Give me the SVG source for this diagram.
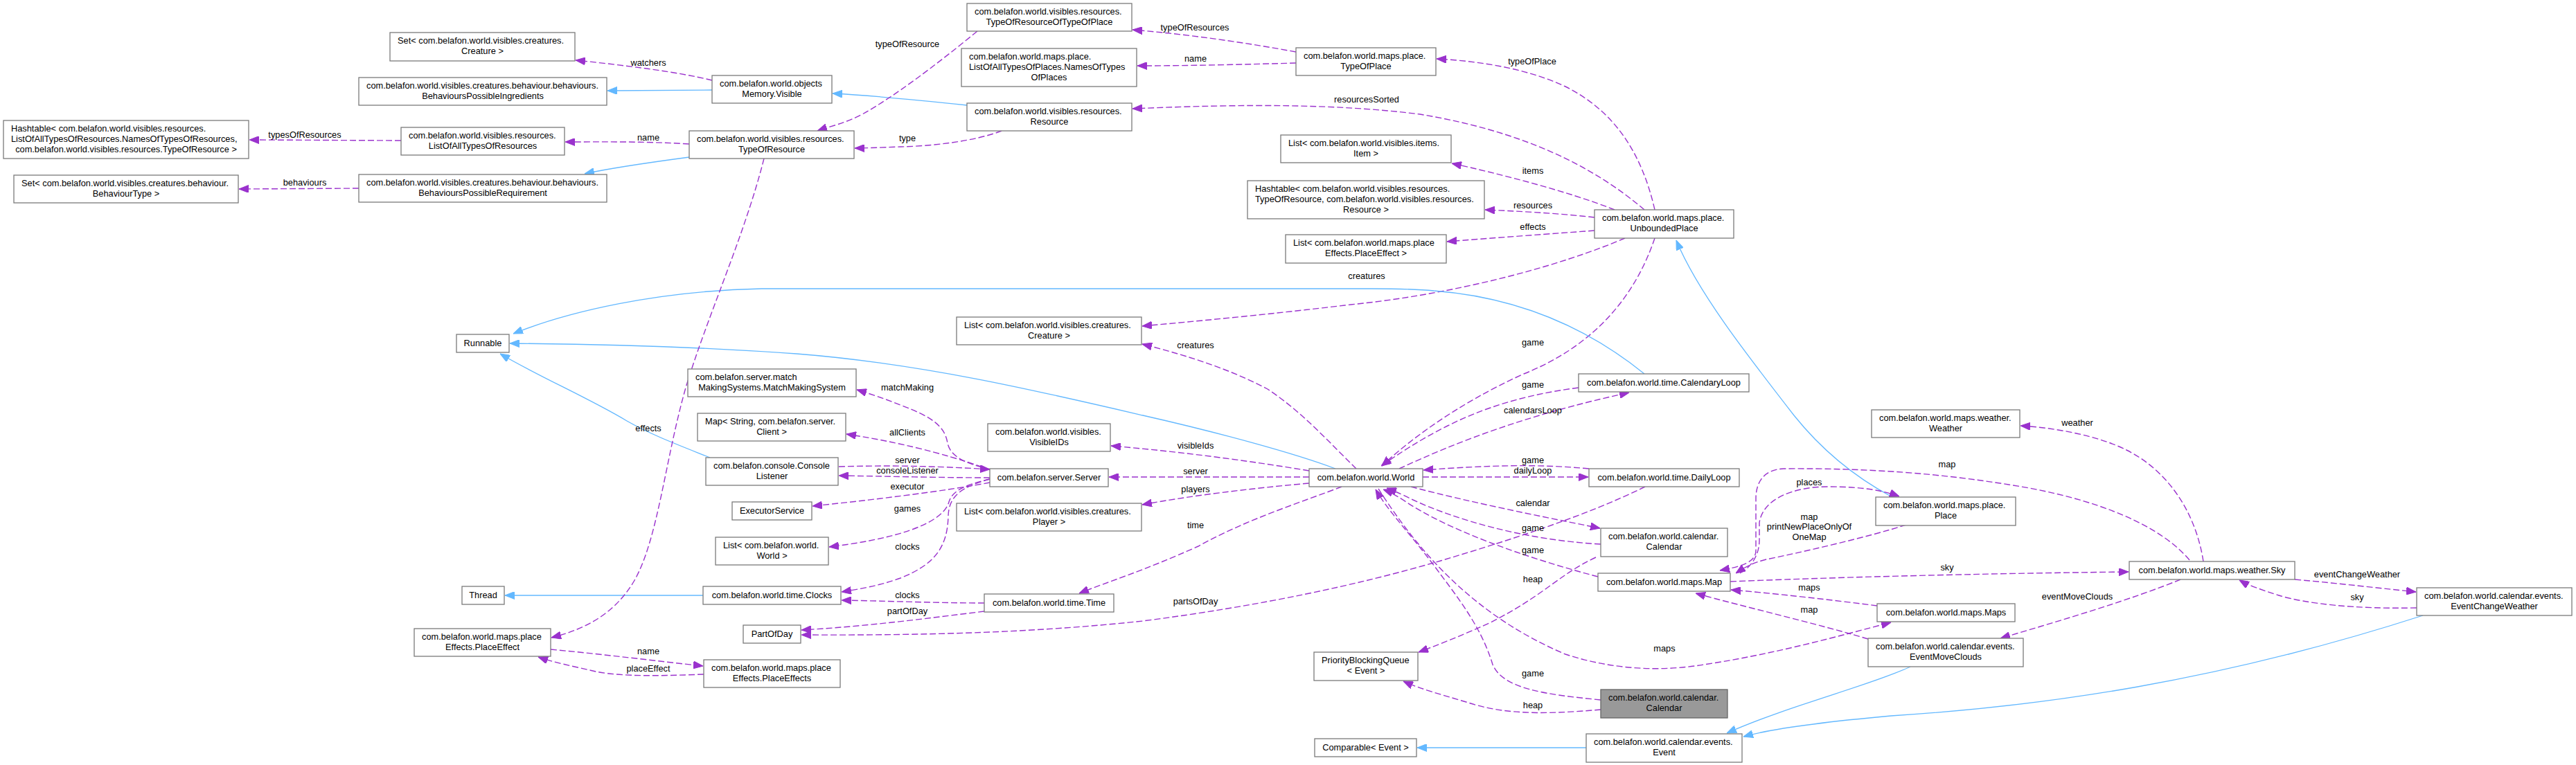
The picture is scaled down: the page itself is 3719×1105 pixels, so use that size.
<svg xmlns="http://www.w3.org/2000/svg" width="3719" height="1105" viewBox="0 0 3719 1105">
<defs>
<style>
text{font-family:"Liberation Sans",Arial,Helvetica,sans-serif;font-size:12.8px;fill:#000}
.node rect{fill:#fff;stroke:#7a7a7a;stroke-width:1.3}
.node.focus rect{fill:#999;stroke:#666}
.m{text-anchor:middle}
.s{text-anchor:start}
.u{fill:none;stroke:#9a32cd;stroke-width:1.4;stroke-dasharray:9,4;marker-end:url(#pa)}
.i{fill:none;stroke:#63b8ff;stroke-width:1.3;marker-end:url(#ba)}
.lbl text{text-anchor:middle}
</style>
<marker id="pa" markerUnits="userSpaceOnUse" markerWidth="14" markerHeight="11" refX="14" refY="5.5" orient="auto"><path d="M0,0 L14,5.5 L0,11 z" fill="#9a32cd" stroke="#9a32cd" stroke-width="1"/></marker>
<marker id="ba" markerUnits="userSpaceOnUse" markerWidth="14" markerHeight="11" refX="14" refY="5.5" orient="auto"><path d="M0,0 L14,5.5 L0,11 z" fill="#63b8ff" stroke="#63b8ff" stroke-width="1"/></marker>
</defs>
<rect width="3719" height="1105" fill="#fff"/>
<g id="connectors">
<path class="u" d="M1028,116 C980,104 900,94 831,87"/>
<path class="i" d="M1028,130 L877,131"/>
<path class="u" d="M579,203 L360,202"/>
<path class="u" d="M995,208 C930,204 870,205 816,205"/>
<path class="i" d="M995,227 C950,233 890,241 844,251"/>
<path class="u" d="M518,272 L345,273"/>
<path class="i" d="M1396,152 C1330,145 1260,138 1202,135"/>
<path class="u" d="M1411,45 C1350,95 1290,140 1245,165 C1220,178 1200,182 1180,189"/>
<path class="u" d="M1446,189 C1410,203 1350,211 1300,212 C1270,213 1250,214 1234,214"/>
<path class="u" d="M1871,75 C1800,62 1720,50 1635,43"/>
<path class="u" d="M1871,91 C1800,93 1720,95 1642,95"/>
<path class="u" d="M2389,303 C2370,220 2330,160 2260,125 C2200,97 2130,88 2074,85"/>
<path class="u" d="M2374,303 C2300,240 2200,190 2050,165 C1930,150 1800,150 1635,157"/>
<path class="u" d="M2331,303 C2260,275 2160,250 2096,236"/>
<path class="u" d="M2302,314 C2250,308 2190,305 2144,303"/>
<path class="u" d="M2302,333 C2250,337 2150,344 2089,349"/>
<path class="u" d="M2346,344 C2250,385 2100,425 1950,440 C1850,452 1750,462 1649,471"/>
<path class="u" d="M2389,344 C2360,430 2300,500 2200,540 C2100,585 2030,640 1995,673"/>
<path class="u" d="M1958,677 C1920,640 1880,595 1830,562 C1770,530 1700,510 1649,497"/>
<path class="i" d="M2374,540 C2300,480 2200,430 2070,420 C2040,417 2010,417 1980,417 L1100,417 C950,420 820,450 741,482"/>
<path class="i" d="M1928,677 C1870,655 1760,625 1650,600 C1500,565 1330,525 1150,511 C1000,500 850,497 736,496"/>
<path class="i" d="M1025,661 C980,643 940,628 905,608 C850,575 780,545 722,511"/>
<path class="i" d="M1015,860 L729,860"/>
<path class="u" d="M1103,229 C1075,340 1020,460 990,560 C960,665 950,780 915,840 C885,890 840,910 796,921"/>
<path class="u" d="M795,938 C870,945 950,955 1015,962"/>
<path class="u" d="M1016,974 C960,976 900,978 860,970 C830,963 800,957 777,949"/>
<path class="u" d="M1430,678 C1395,670 1372,660 1368,640 C1364,615 1345,602 1300,585 C1280,577 1260,570 1237,563"/>
<path class="u" d="M1430,679 C1390,664 1320,642 1222,627"/>
<path class="u" d="M1211,674 C1280,672 1350,673 1429,678"/>
<path class="u" d="M1429,690 C1360,690 1280,688 1211,687"/>
<path class="u" d="M1429,697 C1360,710 1260,722 1173,731"/>
<path class="u" d="M1429,692 C1395,700 1375,708 1370,725 C1360,760 1280,780 1197,790"/>
<path class="u" d="M1429,692 C1390,703 1370,715 1369,745 C1368,790 1350,815 1300,835 C1270,846 1240,851 1215,855"/>
<path class="u" d="M1421,871 C1350,871 1280,868 1215,867"/>
<path class="u" d="M1421,883 C1340,893 1250,905 1157,910"/>
<path class="u" d="M2375,703 C2290,745 2180,780 2080,810 C1960,845 1820,875 1650,897 C1500,913 1350,918 1157,917"/>
<path class="u" d="M1890,680 C1800,665 1700,652 1604,644"/>
<path class="u" d="M1890,689 L1601,689"/>
<path class="u" d="M1890,698 C1800,706 1720,716 1649,729"/>
<path class="u" d="M1937,703 C1880,725 1800,750 1730,789 C1650,825 1600,840 1558,857"/>
<path class="u" d="M2279,560 C2200,570 2140,590 2090,615 C2050,635 2020,655 1994,673"/>
<path class="u" d="M2020,677 C2100,640 2200,600 2352,567"/>
<path class="u" d="M2294,677 C2220,670 2150,672 2055,679"/>
<path class="u" d="M2054,689 L2293,689"/>
<path class="u" d="M2037,703 C2120,725 2220,745 2310,763"/>
<path class="u" d="M2311,786 C2200,780 2100,750 2040,722 C2020,712 2010,708 2002,705"/>
<path class="u" d="M2307,833 C2200,805 2090,765 2030,725 C2015,715 2005,710 1997,707"/>
<path class="u" d="M2304,805 C2250,830 2230,860 2150,900 C2110,918 2080,930 2048,942"/>
<path class="u" d="M1990,706 C2050,800 2130,890 2260,945 C2330,968 2400,970 2460,960 C2560,945 2650,920 2730,899"/>
<path class="u" d="M2311,1011 C2230,1003 2170,995 2155,960 C2140,910 2110,870 2080,830 C2040,775 2005,740 1986,707"/>
<path class="u" d="M2311,1025 C2250,1030 2180,1035 2120,1015 C2080,1003 2050,995 2026,984"/>
<path class="i" d="M2290,1080 L2046,1080"/>
<path class="i" d="M2758,963 C2700,990 2580,1020 2493,1059"/>
<path class="i" d="M3498,889 C3200,985 2950,1020 2730,1034 C2630,1043 2560,1052 2517,1064"/>
<path class="i" d="M2730,717 C2680,690 2630,650 2590,600 C2520,510 2450,420 2420,347"/>
<path class="u" d="M3161,809 C3120,760 3030,720 2900,700 C2800,684 2700,676 2575,677 C2548,678 2535,695 2535,720 L2535,795 C2535,812 2515,818 2483,824"/>
<path class="u" d="M2512,828 C2530,818 2540,800 2540,780 L2540,755 C2545,720 2590,703 2640,703 C2690,703 2720,709 2742,717"/>
<path class="u" d="M2752,758 C2700,775 2600,798 2550,808 C2530,813 2518,820 2506,828"/>
<path class="u" d="M2498,840 C2700,832 2900,828 3073,826"/>
<path class="u" d="M2710,875 C2640,866 2560,857 2499,852"/>
<path class="u" d="M2697,923 C2620,900 2520,877 2448,857"/>
<path class="u" d="M3181,811 C3170,740 3130,680 3070,650 C3030,630 2970,618 2917,615"/>
<path class="u" d="M3148,837 C3080,865 2980,895 2888,922"/>
<path class="u" d="M3313,837 C3380,843 3430,849 3488,855"/>
<path class="u" d="M3489,878 C3400,880 3330,872 3290,860 C3265,852 3245,845 3233,838"/>
<g class="lbl">
<text x="936" y="95">watchers</text>
<text x="440" y="199">typesOfResources</text>
<text x="440" y="268">behaviours</text>
<text x="936" y="203">name</text>
<text x="1310" y="68">typeOfResource</text>
<text x="1310" y="204">type</text>
<text x="1725" y="44">typeOfResources</text>
<text x="1726" y="89">name</text>
<text x="2212" y="93">typeOfPlace</text>
<text x="1973" y="148">resourcesSorted</text>
<text x="2213" y="251">items</text>
<text x="2213" y="301">resources</text>
<text x="2213" y="332">effects</text>
<text x="1973" y="403">creatures</text>
<text x="2213" y="499">game</text>
<text x="1726" y="503">creatures</text>
<text x="936" y="623">effects</text>
<text x="1310" y="564">matchMaking</text>
<text x="1310" y="629">allClients</text>
<text x="1310" y="669">server</text>
<text x="1310" y="684">consoleListener</text>
<text x="1310" y="707">executor</text>
<text x="1310" y="739">games</text>
<text x="1310" y="794">clocks</text>
<text x="1310" y="864">clocks</text>
<text x="1310" y="887">partOfDay</text>
<text x="936" y="945">name</text>
<text x="936" y="970">placeEffect</text>
<text x="1726" y="648">visibleIds</text>
<text x="1726" y="685">server</text>
<text x="1726" y="711">players</text>
<text x="1726" y="763">time</text>
<text x="1726" y="873">partsOfDay</text>
<text x="2213" y="560">game</text>
<text x="2213" y="597">calendarsLoop</text>
<text x="2213" y="669">game</text>
<text x="2213" y="684">dailyLoop</text>
<text x="2213" y="731">calendar</text>
<text x="2213" y="767">game</text>
<text x="2213" y="799">game</text>
<text x="2213" y="841">heap</text>
<text x="2403" y="941">maps</text>
<text x="2213" y="977">game</text>
<text x="2213" y="1023">heap</text>
<text x="2612" y="701">places</text>
<text x="2612" y="751">map</text>
<text x="2612" y="765">printNewPlaceOnlyOf</text>
<text x="2612" y="780">OneMap</text>
<text x="2612" y="853">maps</text>
<text x="2612" y="885">map</text>
<text x="2811" y="675">map</text>
<text x="2811" y="824">sky</text>
<text x="2999" y="615">weather</text>
<text x="2999" y="866">eventMoveClouds</text>
<text x="3403" y="834">eventChangeWeather</text>
<text x="3403" y="867">sky</text>
</g>
</g>
<g id="n1" class="node"><rect x="563" y="47" width="267" height="41"/><text class="s" x="574" y="63">Set&lt; com.belafon.world.visibles.creatures.</text><text class="m" x="696.5" y="78">Creature &gt;</text></g>
<g id="n2" class="node"><rect x="518" y="112" width="358" height="40"/><text class="s" x="529" y="128">com.belafon.world.visibles.creatures.behaviour.behaviours.</text><text class="m" x="697" y="143">BehavioursPossibleIngredients</text></g>
<g id="n3" class="node"><rect x="5" y="174" width="354" height="55"/><text class="s" x="16" y="190">Hashtable&lt; com.belafon.world.visibles.resources.</text><text class="s" x="16" y="205">ListOfAllTypesOfResources.NamesOfTypesOfResources,</text><text class="m" x="182" y="220"> com.belafon.world.visibles.resources.TypeOfResource &gt;</text></g>
<g id="n4" class="node"><rect x="579" y="184" width="236" height="40"/><text class="s" x="590" y="200">com.belafon.world.visibles.resources.</text><text class="m" x="697" y="215">ListOfAllTypesOfResources</text></g>
<g id="n5" class="node"><rect x="20" y="253" width="324" height="40"/><text class="s" x="31" y="269">Set&lt; com.belafon.world.visibles.creatures.behaviour.</text><text class="m" x="182" y="284">BehaviourType &gt;</text></g>
<g id="n6" class="node"><rect x="518" y="252" width="358" height="40"/><text class="s" x="529" y="268">com.belafon.world.visibles.creatures.behaviour.behaviours.</text><text class="m" x="697" y="283">BehavioursPossibleRequirement</text></g>
<g id="n7" class="node"><rect x="659" y="483" width="76" height="26"/><text class="m" x="697" y="500">Runnable</text></g>
<g id="n8" class="node"><rect x="667" y="847" width="61" height="26"/><text class="m" x="697.5" y="864">Thread</text></g>
<g id="n9" class="node"><rect x="598" y="908" width="197" height="40"/><text class="s" x="609" y="924">com.belafon.world.maps.place</text><text class="m" x="696.5" y="939">Effects.PlaceEffect</text></g>
<g id="n10" class="node"><rect x="1396" y="5" width="238" height="40"/><text class="s" x="1407" y="21">com.belafon.world.visibles.resources.</text><text class="m" x="1515" y="36">TypeOfResourceOfTypeOfPlace</text></g>
<g id="n11" class="node"><rect x="1388" y="70" width="253" height="55"/><text class="s" x="1399" y="86">com.belafon.world.maps.place.</text><text class="s" x="1399" y="101">ListOfAllTypesOfPlaces.NamesOfTypes</text><text class="m" x="1514.5" y="116">OfPlaces</text></g>
<g id="n12" class="node"><rect x="1028" y="109" width="173" height="40"/><text class="s" x="1039" y="125">com.belafon.world.objects</text><text class="m" x="1114.5" y="140">Memory.Visible</text></g>
<g id="n13" class="node"><rect x="1396" y="149" width="238" height="40"/><text class="s" x="1407" y="165">com.belafon.world.visibles.resources.</text><text class="m" x="1515" y="180">Resource</text></g>
<g id="n14" class="node"><rect x="995" y="189" width="238" height="40"/><text class="s" x="1006" y="205">com.belafon.world.visibles.resources.</text><text class="m" x="1114" y="220">TypeOfResource</text></g>
<g id="n15" class="node"><rect x="1381" y="458" width="267" height="40"/><text class="s" x="1392" y="474">List&lt; com.belafon.world.visibles.creatures.</text><text class="m" x="1514.5" y="489">Creature &gt;</text></g>
<g id="n16" class="node"><rect x="993" y="533" width="243" height="40"/><text class="s" x="1004" y="549">com.belafon.server.match</text><text class="m" x="1114.5" y="564">MakingSystems.MatchMakingSystem</text></g>
<g id="n17" class="node"><rect x="1007" y="597" width="214" height="40"/><text class="s" x="1018" y="613">Map&lt; String, com.belafon.server.</text><text class="m" x="1114" y="628">Client &gt;</text></g>
<g id="n18" class="node"><rect x="1019" y="661" width="191" height="40"/><text class="s" x="1030" y="677">com.belafon.console.Console</text><text class="m" x="1114.5" y="692">Listener</text></g>
<g id="n19" class="node"><rect x="1057" y="725" width="115" height="26"/><text class="m" x="1114.5" y="742">ExecutorService</text></g>
<g id="n20" class="node"><rect x="1033" y="776" width="163" height="40"/><text class="s" x="1044" y="792">List&lt; com.belafon.world.</text><text class="m" x="1114.5" y="807">World &gt;</text></g>
<g id="n21" class="node"><rect x="1015" y="847" width="199" height="26"/><text class="m" x="1114.5" y="864">com.belafon.world.time.Clocks</text></g>
<g id="n22" class="node"><rect x="1073" y="903" width="83" height="26"/><text class="m" x="1114.5" y="920">PartOfDay</text></g>
<g id="n23" class="node"><rect x="1016" y="953" width="197" height="40"/><text class="s" x="1027" y="969">com.belafon.world.maps.place</text><text class="m" x="1114.5" y="984">Effects.PlaceEffects</text></g>
<g id="n24" class="node"><rect x="1426" y="612" width="177" height="40"/><text class="s" x="1437" y="628">com.belafon.world.visibles.</text><text class="m" x="1514.5" y="643">VisibleIDs</text></g>
<g id="n25" class="node"><rect x="1429" y="677" width="171" height="26"/><text class="m" x="1514.5" y="694">com.belafon.server.Server</text></g>
<g id="n26" class="node"><rect x="1381" y="727" width="267" height="40"/><text class="s" x="1392" y="743">List&lt; com.belafon.world.visibles.creatures.</text><text class="m" x="1514.5" y="758">Player &gt;</text></g>
<g id="n27" class="node"><rect x="1421" y="858" width="187" height="26"/><text class="m" x="1514.5" y="875">com.belafon.world.time.Time</text></g>
<g id="n28" class="node"><rect x="1871" y="69" width="202" height="40"/><text class="s" x="1882" y="85">com.belafon.world.maps.place.</text><text class="m" x="1972" y="100">TypeOfPlace</text></g>
<g id="n29" class="node"><rect x="1849" y="195" width="246" height="40"/><text class="s" x="1860" y="211">List&lt; com.belafon.world.visibles.items.</text><text class="m" x="1972" y="226">Item &gt;</text></g>
<g id="n30" class="node"><rect x="1801" y="261" width="342" height="55"/><text class="s" x="1812" y="277">Hashtable&lt; com.belafon.world.visibles.resources.</text><text class="s" x="1812" y="292">TypeOfResource, com.belafon.world.visibles.resources.</text><text class="m" x="1972" y="307">Resource &gt;</text></g>
<g id="n31" class="node"><rect x="1856" y="339" width="232" height="41"/><text class="s" x="1867" y="355">List&lt; com.belafon.world.maps.place</text><text class="m" x="1972" y="370">Effects.PlaceEffect &gt;</text></g>
<g id="n32" class="node"><rect x="2302" y="303" width="201" height="41"/><text class="s" x="2313" y="319">com.belafon.world.maps.place.</text><text class="m" x="2402.5" y="334">UnboundedPlace</text></g>
<g id="n33" class="node"><rect x="2279" y="540" width="246" height="26"/><text class="m" x="2402" y="557">com.belafon.world.time.CalendaryLoop</text></g>
<g id="n34" class="node"><rect x="1890" y="677" width="164" height="26"/><text class="m" x="1972" y="694">com.belafon.world.World</text></g>
<g id="n35" class="node"><rect x="2294" y="677" width="217" height="26"/><text class="m" x="2402.5" y="694">com.belafon.world.time.DailyLoop</text></g>
<g id="n36" class="node"><rect x="2311" y="763" width="183" height="41"/><text class="s" x="2322" y="779">com.belafon.world.calendar.</text><text class="m" x="2402.5" y="794">Calendar</text></g>
<g id="n37" class="node"><rect x="2307" y="828" width="191" height="26"/><text class="m" x="2402.5" y="845">com.belafon.world.maps.Map</text></g>
<g id="n38" class="node"><rect x="1897" y="942" width="150" height="41"/><text class="s" x="1908" y="958">PriorityBlockingQueue</text><text class="m" x="1972" y="973">&lt; Event &gt;</text></g>
<g id="n39" class="node focus"><rect x="2311" y="996" width="183" height="41"/><text class="s" x="2322" y="1012">com.belafon.world.calendar.</text><text class="m" x="2402.5" y="1027">Calendar</text></g>
<g id="n40" class="node"><rect x="1898" y="1067" width="147" height="26"/><text class="m" x="1971.5" y="1084">Comparable&lt; Event &gt;</text></g>
<g id="n41" class="node"><rect x="2290" y="1060" width="225" height="41"/><text class="s" x="2301" y="1076">com.belafon.world.calendar.events.</text><text class="m" x="2402.5" y="1091">Event</text></g>
<g id="n42" class="node"><rect x="2702" y="592" width="214" height="40"/><text class="s" x="2713" y="608">com.belafon.world.maps.weather.</text><text class="m" x="2809" y="623">Weather</text></g>
<g id="n43" class="node"><rect x="2708" y="718" width="202" height="41"/><text class="s" x="2719" y="734">com.belafon.world.maps.place.</text><text class="m" x="2809" y="749">Place</text></g>
<g id="n44" class="node"><rect x="3074" y="811" width="239" height="26"/><text class="m" x="3193.5" y="828">com.belafon.world.maps.weather.Sky</text></g>
<g id="n45" class="node"><rect x="3489" y="849" width="224" height="40"/><text class="s" x="3500" y="865">com.belafon.world.calendar.events.</text><text class="m" x="3601" y="880">EventChangeWeather</text></g>
<g id="n46" class="node"><rect x="2710" y="872" width="199" height="26"/><text class="m" x="2809.5" y="889">com.belafon.world.maps.Maps</text></g>
<g id="n47" class="node"><rect x="2697" y="922" width="224" height="41"/><text class="s" x="2708" y="938">com.belafon.world.calendar.events.</text><text class="m" x="2809" y="953">EventMoveClouds</text></g>
</svg>
